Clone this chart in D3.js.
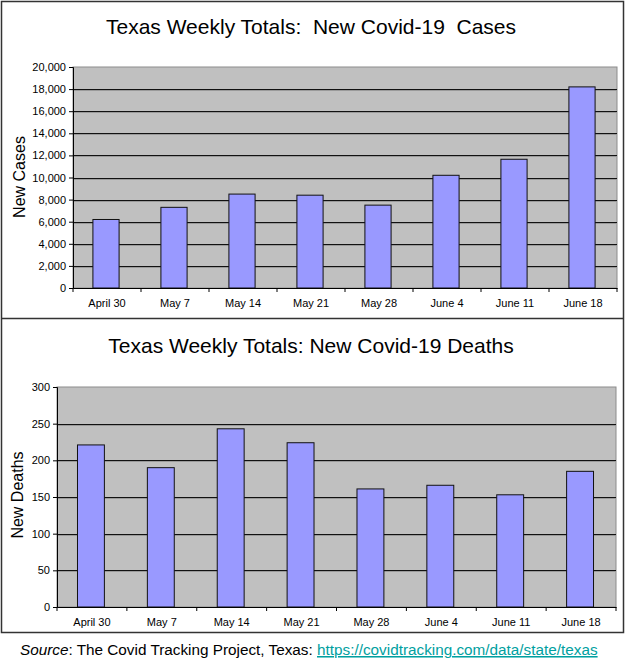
<!DOCTYPE html>
<html>
<head>
<meta charset="utf-8">
<script src="https://cdn.jsdelivr.net/npm/d3@7"></script>
<style>
  body { margin: 0; background: #fff; }
  text { font-family: "Liberation Sans", Arial, sans-serif; white-space: pre; }
</style>
</head>
<body>
<div id="charts"></div>
<script>
// data
let weeks = ["April 30", "May 7", "May 14", "May 21", "May 28", "June 4", "June 11", "June 18"];
let newCases = [6200, 7300, 8500, 8400, 7500, 10200, 11650, 18200];
let newDeaths = [221, 190, 243, 224, 161, 166, 153, 185];
let caseTicks = [0, 2000, 4000, 6000, 8000, 10000, 12000, 14000, 16000, 18000, 20000];
let deathTicks = [0, 50, 100, 150, 200, 250, 300];

let w = 626;
let h = 663;

let svg = d3.select("#charts")
    .append("svg")
    .attr("width", w)
    .attr("height", h)
    .style("display", "block");

// outer frame + separator
svg.append("rect")
    .attr("x", 1.5).attr("y", 1.5)
    .attr("width", 622).attr("height", 631)
    .attr("fill", "none")
    .attr("stroke", "#333")
    .attr("stroke-width", 1.5);
svg.append("line")
    .attr("x1", 1).attr("x2", 624)
    .attr("y1", 318.5).attr("y2", 318.5)
    .attr("stroke", "#333")
    .attr("stroke-width", 1.5);

function drawChart(opt) {
    let g = svg.append("g");

    g.append("text")
        .attr("x", opt.titleX)
        .attr("y", opt.titleY)
        .attr("text-anchor", "middle")
        .attr("font-size", 21)
        .attr("fill", "#000")
        .text(opt.title);

    let xScale = d3.scaleBand()
        .domain(weeks)
        .range([opt.left, opt.right])
        .paddingInner(0)
        .paddingOuter(0);

    let yScale = d3.scaleLinear()
        .domain([0, opt.yMax])
        .range([opt.bottom, opt.top]);

    // plot background
    g.append("rect")
        .attr("x", opt.left).attr("y", opt.top)
        .attr("width", opt.right - opt.left)
        .attr("height", opt.bottom - opt.top)
        .attr("fill", "#c0c0c0")
        .attr("stroke", "#8c8c8c")
        .attr("stroke-width", 1);

    // gridlines (dark line with a grey shadow under it)
    let inner = opt.ticks.filter(function (d) { return d > 0 && d < opt.yMax; });
    g.append("g")
        .selectAll("line")
        .data(inner)
        .enter().append("line")
        .attr("x1", opt.left).attr("x2", opt.right)
        .attr("y1", function (d) { return Math.round(yScale(d)) + 0.5; })
        .attr("y2", function (d) { return Math.round(yScale(d)) + 0.5; })
        .attr("stroke", "#111")
        .attr("stroke-width", 1);
    g.append("g")
        .selectAll("line")
        .data(inner)
        .enter().append("line")
        .attr("x1", opt.left).attr("x2", opt.right)
        .attr("y1", function (d) { return Math.round(yScale(d)) + 1.5; })
        .attr("y2", function (d) { return Math.round(yScale(d)) + 1.5; })
        .attr("stroke", "#9a9a9a")
        .attr("stroke-width", 1);

    // bars
    let barW = xScale.bandwidth() * 0.385;
    g.append("g")
        .selectAll("rect")
        .data(opt.values)
        .enter().append("rect")
        .attr("x", function (d, i) { return xScale(weeks[i]) + (xScale.bandwidth() - barW) / 2 - 1; })
        .attr("y", function (d) { return yScale(d); })
        .attr("width", barW)
        .attr("height", function (d) { return opt.bottom - yScale(d); })
        .attr("fill", "#9999ff")
        .attr("stroke", "#111")
        .attr("stroke-width", 1);

    // y axis
    let yAxis = d3.axisLeft(yScale)
        .tickValues(opt.ticks)
        .tickSize(4)
        .tickPadding(3)
        .tickFormat(d3.format(","));
    let yAxisGroup = g.append("g")
        .attr("transform", "translate(" + opt.left + ",0)")
        .call(yAxis);
    yAxisGroup.selectAll("text")
        .attr("font-size", 11)
        .attr("font-family", "Liberation Sans, Arial, sans-serif")
        .attr("fill", "#000");
    yAxisGroup.select(".domain").attr("stroke", "#000");
    yAxisGroup.selectAll(".tick line").attr("stroke", "#000");

    // x axis: labels at band centres, ticks at band edges
    let xAxis = d3.axisBottom(xScale).tickSize(0).tickPadding(11);
    let xAxisGroup = g.append("g")
        .attr("transform", "translate(0," + opt.bottom + ")")
        .call(xAxis);
    xAxisGroup.selectAll("text")
        .attr("font-size", 11)
        .attr("font-family", "Liberation Sans, Arial, sans-serif")
        .attr("fill", "#000");
    xAxisGroup.select(".domain").attr("stroke", "#000");
    xAxisGroup.append("g")
        .selectAll("line")
        .data(weeks.concat(["end"]))
        .enter().append("line")
        .attr("x1", function (d, i) { return opt.left + i * xScale.bandwidth(); })
        .attr("x2", function (d, i) { return opt.left + i * xScale.bandwidth(); })
        .attr("y1", 0).attr("y2", 4)
        .attr("stroke", "#000");

    // y axis title
    g.append("text")
        .attr("transform", "translate(" + opt.yTitleX + "," + opt.yTitleY + ") rotate(-90)")
        .attr("text-anchor", "middle")
        .attr("font-size", 16)
        .attr("fill", "#000")
        .text(opt.yTitle);
}

drawChart({
    title: "Texas Weekly Totals:  New Covid-19  Cases",
    titleX: 311, titleY: 34,
    values: newCases, ticks: caseTicks, yMax: 20000,
    left: 73, right: 617, top: 67, bottom: 288,
    yTitle: "New Cases", yTitleX: 25, yTitleY: 177
});

drawChart({
    title: "Texas Weekly Totals: New Covid-19 Deaths",
    titleX: 311, titleY: 353,
    values: newDeaths, ticks: deathTicks, yMax: 300,
    left: 57, right: 616, top: 387, bottom: 607,
    yTitle: "New Deaths", yTitleX: 23, yTitleY: 495
});

// source line
let src = svg.append("text")
    .attr("x", 20)
    .attr("y", 655)
    .attr("font-size", 15.3)
    .attr("fill", "#000");
src.append("tspan").attr("font-style", "italic").text("Source");
src.append("tspan").text(": The Covid Tracking Project, Texas: ");
src.append("tspan")
    .attr("fill", "#00a0a0")
    .attr("text-decoration", "underline")
    .text("https://covidtracking.com/data/state/texas");
</script>
</body>
</html>
